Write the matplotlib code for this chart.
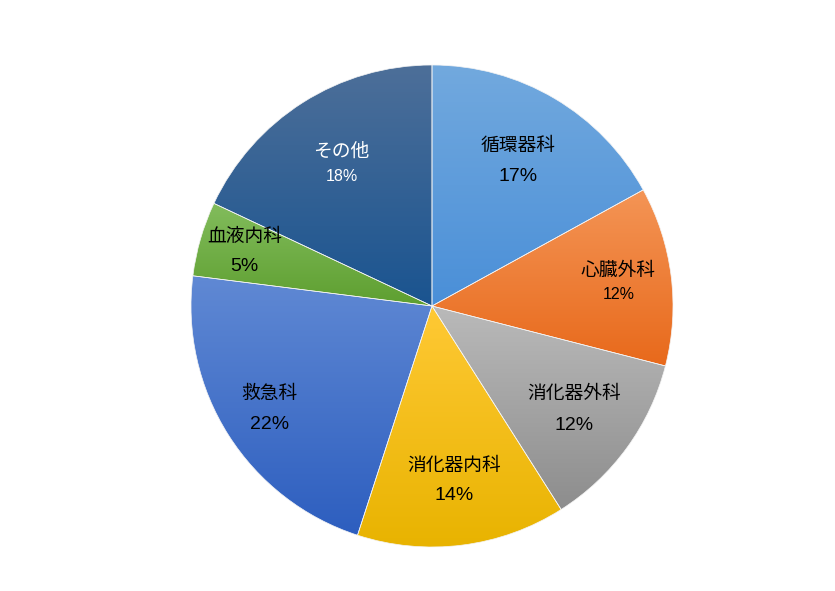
import numpy as np
import matplotlib
matplotlib.use('Agg')
import matplotlib.pyplot as plt
from matplotlib.colors import LinearSegmentedColormap

plt.rcParams['font.family'] = ['Noto Sans CJK JP', 'DejaVu Sans']

# data
labels = ['循環器科', '心臓外科', '消化器外科', '消化器内科', '救急科', '血液内科', 'その他']
shares = [17, 12, 12, 14, 22, 5, 18]

# gradient colours per slice (top, bottom)
top_colors = ['#72a9de', '#f49556', '#bababa', '#ffc935', '#6089d4', '#82bc5c', '#4d6f99']
bottom_colors = ['#4a8fd8', '#e8691b', '#8d8d8d', '#e8b300', '#2d5ebf', '#5e9f30', '#1a5490']
text_colors = ['black', 'black', 'black', 'black', 'black', 'black', 'white']

# label layout: radius fraction, line gap (axes units), pct font size
label_r = [0.70, 0.78, 0.73, 0.73, 0.80, 0.81, 0.70]
line_gap = [0.065, 0.05, 0.068, 0.064, 0.064, 0.062, 0.052]
pct_size = [14, 11.5, 14, 14, 14, 14, 11.5]

fig = plt.figure(figsize=(8.35, 5.91), dpi=100)
ax = fig.add_axes([(432 - 241) / 835, (591 - 306 - 241) / 591, 482 / 835, 482 / 591])
ax.set_xlim(-1, 1)
ax.set_ylim(-1, 1)
ax.axis('off')

wedges, _ = ax.pie(shares, startangle=90, counterclock=False, radius=1,
                   wedgeprops=dict(edgecolor='#f4f4f4', linewidth=0.5, facecolor='none'))

grad = np.linspace(0, 1, 256).reshape(-1, 1)
for i, w in enumerate(wedges):
    verts = w.get_path().vertices
    y0, y1 = verts[:, 1].min(), verts[:, 1].max()
    cmap = LinearSegmentedColormap.from_list('g%d' % i, [top_colors[i], bottom_colors[i]])
    im = ax.imshow(grad, cmap=cmap, extent=(-1, 1, y0, y1), aspect='auto',
                   origin='upper', zorder=0)
    im.set_clip_path(w)
    w.set_zorder(2)

ax.set_xlim(-1, 1)
ax.set_ylim(-1, 1)

start = 0.0
total = float(sum(shares))
for i, lab in enumerate(labels):
    mid = (start + shares[i] / 2) / total * 2 * np.pi
    start += shares[i]
    x = label_r[i] * np.sin(mid)
    y = label_r[i] * np.cos(mid)
    ax.text(x, y + line_gap[i], lab, ha='center', va='center', fontsize=13.5,
            color=text_colors[i], zorder=5)
    ax.text(x, y - line_gap[i], '%d%%' % shares[i], ha='center', va='center',
            fontsize=pct_size[i], color=text_colors[i], zorder=5,
            family=['Liberation Sans', 'DejaVu Sans'])

fig.savefig('out.png', dpi=100)
